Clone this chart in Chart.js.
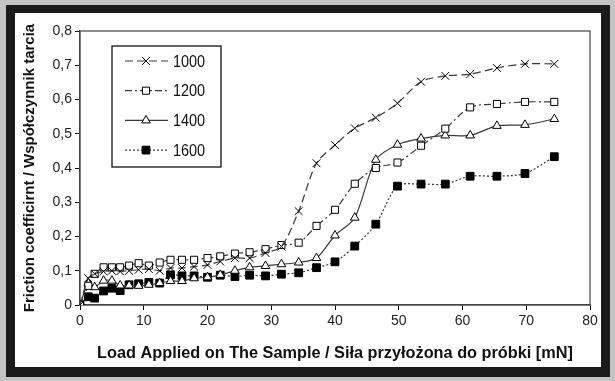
<!DOCTYPE html>
<html><head><meta charset="utf-8">
<script src="https://cdn.jsdelivr.net/npm/chart.js@4/dist/chart.umd.min.js"></script>
<style>
html,body{margin:0;padding:0;background:#c4c4c4;width:615px;height:381px;overflow:hidden}
#frame{position:absolute;left:6px;top:5px;width:604px;height:372px;background:#1b1b1b}
#wrap{position:absolute;left:15px;top:13px;width:586px;height:354px;background:#fff}
</style></head><body>
<div id="frame"></div>
<div id="wrap"><canvas id="c"></canvas></div>
<script>
// Load applied [mN]
const loads = [0, 1.3, 2.3, 3.7, 5.0, 6.3, 7.7, 9.2, 10.8, 12.5, 14.2, 16.0, 17.9, 20.0, 22.0, 24.3, 26.6, 29.1, 31.6, 34.3, 37.1, 40.0, 43.1, 46.4, 49.8, 53.5, 57.3, 61.2, 65.4, 69.8, 74.4];
const seriesNames = ['1000', '1200', '1400', '1600'];
const mu1000 = [0, 0.078, 0.091, 0.098, 0.100, 0.098, 0.100, 0.103, 0.105, 0.100, 0.108, 0.108, 0.112, 0.117, 0.127, 0.137, 0.137, 0.152, 0.171, 0.274, 0.414, 0.467, 0.516, 0.547, 0.589, 0.652, 0.669, 0.674, 0.692, 0.704, 0.704];
const mu1200 = [0, 0.056, 0.091, 0.110, 0.110, 0.110, 0.115, 0.122, 0.115, 0.124, 0.132, 0.132, 0.132, 0.137, 0.142, 0.150, 0.154, 0.163, 0.175, 0.182, 0.231, 0.278, 0.354, 0.400, 0.416, 0.465, 0.515, 0.577, 0.587, 0.593, 0.593];
const mu1400 = [0, 0.064, 0.052, 0.071, 0.071, 0.057, 0.057, 0.056, 0.059, 0.064, 0.070, 0.070, 0.078, 0.081, 0.088, 0.100, 0.110, 0.114, 0.119, 0.124, 0.137, 0.203, 0.255, 0.424, 0.468, 0.486, 0.495, 0.495, 0.523, 0.526, 0.543];
const mu1600 = [0, 0.024, 0.020, 0.041, 0.049, 0.042, 0.059, 0.062, 0.066, 0.064, 0.088, 0.085, 0.085, 0.081, 0.087, 0.083, 0.087, 0.085, 0.090, 0.094, 0.109, 0.126, 0.172, 0.236, 0.347, 0.353, 0.353, 0.376, 0.376, 0.384, 0.433];
const xTitle = 'Load Applied on The Sample / Siła przyłożona do próbki [mN]';
const yTitle = 'Friction coefficirnt / Współczynnik tarcia';

const FONT = "'Liberation Sans', Arial, sans-serif";
const pts = arr => arr.map((v, i) => ({x: loads[i], y: v}));
const LINE = '#3a3a3a';

const datasets = [
  {label: seriesNames[0], data: pts(mu1000), borderDash: [8, 4], pointStyle: 'crossRot', pointRadius: 5.5, pointBackgroundColor: '#fff'},
  {label: seriesNames[1], data: pts(mu1200), borderDash: [7, 3, 2, 3], pointStyle: 'rect', pointRadius: 5, pointBackgroundColor: '#fff'},
  {label: seriesNames[2], data: pts(mu1400), borderDash: [], pointStyle: 'triangle', pointRadius: 5, pointBackgroundColor: '#fff'},
  {label: seriesNames[3], data: pts(mu1600), borderDash: [2, 2], pointStyle: 'rect', pointRadius: 5.5, pointBackgroundColor: '#000'}
].map(d => Object.assign({
  borderColor: LINE, borderWidth: 1.2, tension: 0.3,
  pointBorderColor: '#000', pointBorderWidth: 1, pointHoverRadius: 5, fill: false
}, d));

const frameLegend = {
  id: 'frameLegend',
  beforeDatasetsDraw(chart) {
    const {ctx, chartArea: a} = chart;
    ctx.save();
    ctx.strokeStyle = '#444'; ctx.lineWidth = 1.2;
    ctx.strokeRect(a.left, a.top, a.right - a.left, a.bottom - a.top);
    ctx.restore();
  },
  afterDraw(chart) {
    const ctx = chart.ctx;
    ctx.save();
    ctx.fillStyle = '#fff';
    ctx.fillRect(97, 33, 109, 121);
    ctx.strokeStyle = '#111'; ctx.lineWidth = 1.3;
    ctx.strokeRect(97, 33, 109, 121);
    chart.data.datasets.forEach((ds, i) => {
      const y = 48 + i * 29.7;
      ctx.setLineDash(ds.borderDash);
      ctx.strokeStyle = ds.borderColor; ctx.lineWidth = ds.borderWidth;
      ctx.beginPath(); ctx.moveTo(110, y); ctx.lineTo(153, y); ctx.stroke();
      ctx.setLineDash([]);
      ctx.fillStyle = ds.pointBackgroundColor; ctx.strokeStyle = ds.pointBorderColor; ctx.lineWidth = 1;
      Chart.helpers.drawPoint(ctx, {pointStyle: ds.pointStyle, radius: ds.pointRadius, borderWidth: 1, rotation: 0}, 131, y);
      ctx.save();
      ctx.translate(158, y + 1);
      ctx.scale(0.85, 1);
      ctx.fillStyle = '#111';
      ctx.font = '17px ' + FONT;
      ctx.textBaseline = 'middle'; ctx.textAlign = 'left';
      ctx.fillText(ds.label, 0, 0);
      ctx.restore();
    });
    ctx.restore();
  }
};

new Chart(document.getElementById('c'), {
  type: 'line',
  data: {datasets},
  options: {
    responsive: true, maintainAspectRatio: false, animation: false,
    layout: {padding: {top: 18, right: 11, left: 0, bottom: 0}},
    plugins: {legend: {display: false}, tooltip: {enabled: false}},
    scales: {
      x: {
        type: 'linear', min: 0, max: 80,
        afterFit: s => { s.height = 62; },
        ticks: {stepSize: 10, color: '#222', padding: 3, font: {family: FONT, size: 14}, maxRotation: 0},
        grid: {drawOnChartArea: false, tickLength: 5, color: '#000'},
        border: {color: '#444', width: 1.2},
        title: {display: true, text: xTitle, color: '#111', font: {family: FONT, size: 16.3, weight: 'bold'}, padding: {top: 0, bottom: 4}}
      },
      y: {
        min: 0, max: 0.8,
        afterFit: s => { s.width = 65; },
        ticks: {stepSize: 0.1, color: '#222', padding: 3, font: {family: FONT, size: 14},
          callback: v => Math.abs(v) < 1e-9 ? '0' : v.toFixed(1).replace('.', ',')},
        grid: {drawOnChartArea: false, tickLength: 5, color: '#000'},
        border: {color: '#444', width: 1.2},
        title: {display: true, text: yTitle, color: '#111', font: {family: FONT, size: 15, weight: 'bold'}, padding: {top: 6, bottom: 0}}
      }
    }
  },
  plugins: [frameLegend]
});
</script>
</body></html>
